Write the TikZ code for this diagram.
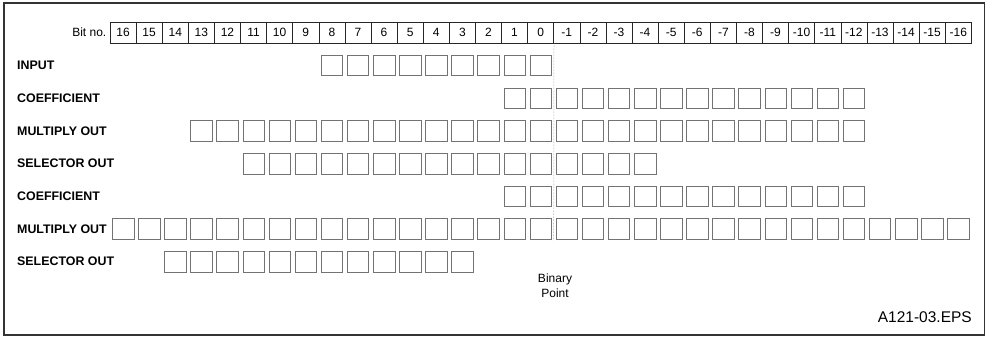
\documentclass[tikz,border=0pt]{standalone}
\usepackage{fontspec}
\setmainfont{Liberation Sans}
\begin{document}
\begin{tikzpicture}[x=1pt,y=-1pt,
  hdr/.style={draw=black!85, line width=0.6pt, minimum width=26.1pt, minimum height=21pt, inner sep=0pt, font=\fontsize{12}{14}\selectfont},
  bitbox/.style={draw=black!55, line width=0.55pt, minimum width=21.5pt, minimum height=20.5pt, inner sep=0pt},
  lbl/.style={anchor=west, inner sep=0pt, font=\bfseries\fontsize{12.4}{14}\selectfont},
  txt/.style={inner sep=0pt, font=\fontsize{12}{14}\selectfont}]
\useasboundingbox (0,0) rectangle (988,338);
\draw[line width=1.3pt, black!80] (4,3) rectangle (984.5,335);
% header
\node[txt, anchor=east] (bitno) at (106.5,32.5) {Bit no.};
\foreach \b [count=\i from 0] in {16,15,...,-16}
  \node[hdr] (h\i) at ({110+26.1*(\i+0.5)},32.5) {\b};
% row labels
\node[lbl] (l1) at (17,65.5) {INPUT};
\node[lbl] (l2) at (17,98.2) {COEFFICIENT};
\node[lbl] (l3) at (17,130.9) {MULTIPLY OUT};
\node[lbl] (l4) at (17,163.6) {SELECTOR OUT};
\node[lbl] (l5) at (17,196.3) {COEFFICIENT};
\node[lbl] (l6) at (17,229) {MULTIPLY OUT};
\node[lbl] (l7) at (17,261.7) {SELECTOR OUT};
% bit boxes
\foreach \r/\y/\a/\z in {1/65.5/8/16, 2/98.2/15/28, 3/130.9/3/28, 4/163.6/5/20, 5/196.3/15/28, 6/229/0/32, 7/261.7/2/13}
  \foreach \i in {\a,...,\z}
    \node[bitbox] (r\r-\i) at ({110+26.1*(\i+0.5)},\y) {};
% binary point
\coordinate (bpend) at (553.7,240);
\draw[black!50, line width=0.5pt, densely dotted] (h16.south east) -- (bpend);
\node[txt, align=center, font=\fontsize{12}{15}\selectfont] (bp) at (555,285.5) {Binary\\Point};
\node[txt, anchor=east, font=\fontsize{15.5}{18}\selectfont] (fig) at (972,317.5) {A121-03.EPS};
\end{tikzpicture}
\end{document}
